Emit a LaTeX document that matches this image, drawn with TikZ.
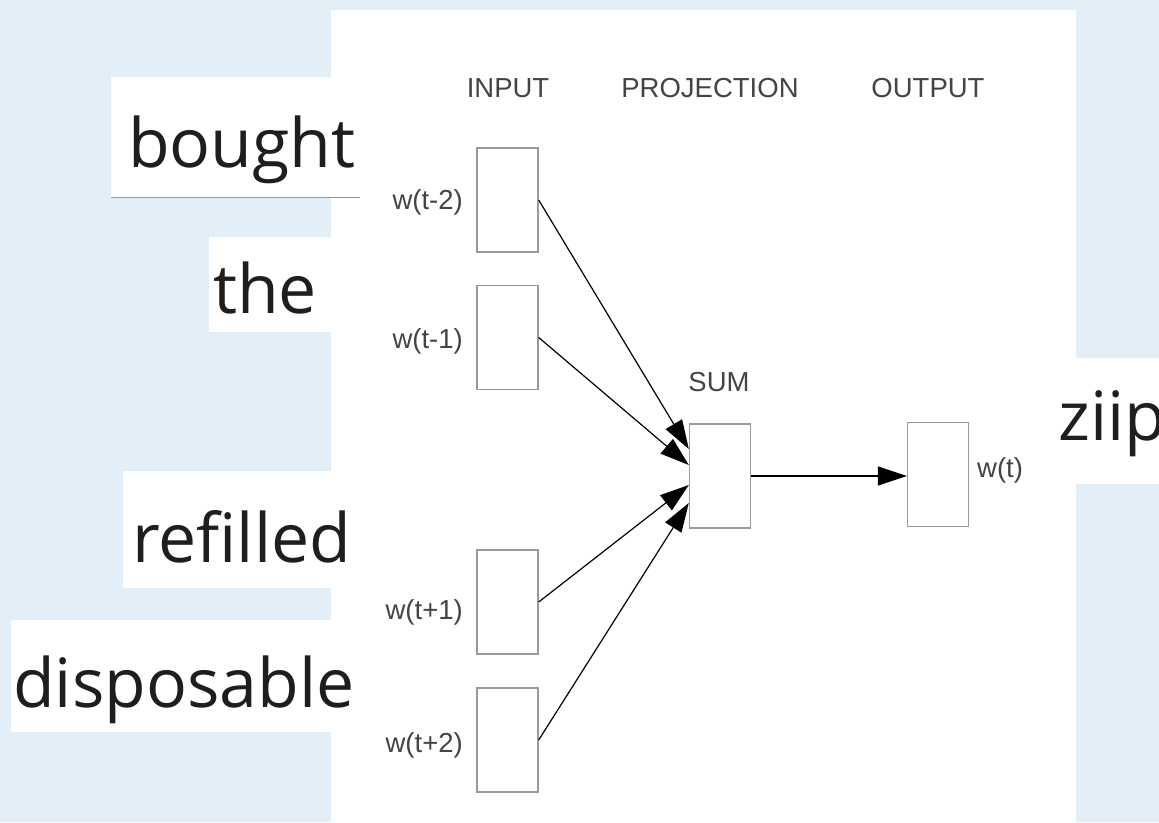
\documentclass[tikz,border=0pt]{standalone}
\usepackage{fontspec}
\setmainfont{Liberation Sans}
\newfontfamily\wordfont{Open Sans}
\usetikzlibrary{arrows.meta,calc}
\definecolor{bgblue}{HTML}{E2EFF9}
\definecolor{labelgray}{HTML}{444444}
\definecolor{boxgray}{HTML}{9A9A9A}
\definecolor{wordtext}{HTML}{1E1E1E}
\begin{document}
\begin{tikzpicture}[x=1pt,y=-1pt,
  unit/.style={draw=boxgray,line width=1.4pt,minimum width=61pt,minimum height=104pt,inner sep=0pt,fill=white},
  lbl/.style={text=labelgray,font=\fontsize{27.5}{30}\selectfont,inner sep=0pt},
  word/.style={text=wordtext,font=\wordfont\fontsize{68}{72}\selectfont,inner sep=0pt,anchor=base west},
  link/.style={draw=black,line width=1.2pt,-{Triangle[length=29pt,width=19pt]}}]
\useasboundingbox (0,0) rectangle (1159,822);
% background and white sheet
\fill[bgblue] (0,0) rectangle (1159,822);
\fill[white] (331,10) rectangle (1076,822);
% word cards
\fill[white] (111,77) rectangle (360,197);
\draw[boxgray,line width=1pt] (111,197) -- (360,197);
\fill[white] (209,237) rectangle (331,332);
\fill[white] (123,471) rectangle (332,588);
\fill[white] (11,620) rectangle (332,732);
\fill[white] (1076,358) rectangle (1159,484);
\node[word] (wbought) at (128,167) {bought};
\node[word] (wthe) at (213,313) {the};
\node[word] (wrefilled) at (132,562) {refilled};
\node[word] (wdisposable) at (13,707) {disposable};
\node[word] (wziip) at (1058,440) {ziip};
% column headings
\node[lbl] (hin) at (508,88) {INPUT};
\node[lbl] (hproj) at (710,88) {PROJECTION};
\node[lbl] (hout) at (928,88) {OUTPUT};
% units
\node[unit] (in1) at (507.5,200) {};
\node[unit] (in2) at (507.5,337.5) {};
\node[unit] (in3) at (507.5,602) {};
\node[unit] (in4) at (507.5,740) {};
\node[unit] (sum) at (720,476) {};
\node[unit] (out) at (938,474.5) {};
% unit labels
\node[lbl,anchor=east] (l1) at (463,202) {w(t-2)};
\node[lbl,anchor=east] (l2) at (463,341) {w(t-1)};
\node[lbl,anchor=east] (l3) at (463,612) {w(t+1)};
\node[lbl,anchor=east] (l4) at (463,745) {w(t+2)};
\node[lbl] (lsum) at (719,382) {SUM};
\node[lbl,anchor=west] (lout) at (977,470) {w(t)};
% connections
\draw[link] (in1.east) -- ([yshift=27pt]sum.west);
\draw[link] (in2.east) -- ([yshift=11pt]sum.west);
\draw[link] (in3.east) -- ([yshift=-9pt]sum.west);
\draw[link] (in4.east) -- ([yshift=-27pt]sum.west);
\draw[link] (sum.east) -- (sum.east -| out.west);
\end{tikzpicture}
\end{document}
